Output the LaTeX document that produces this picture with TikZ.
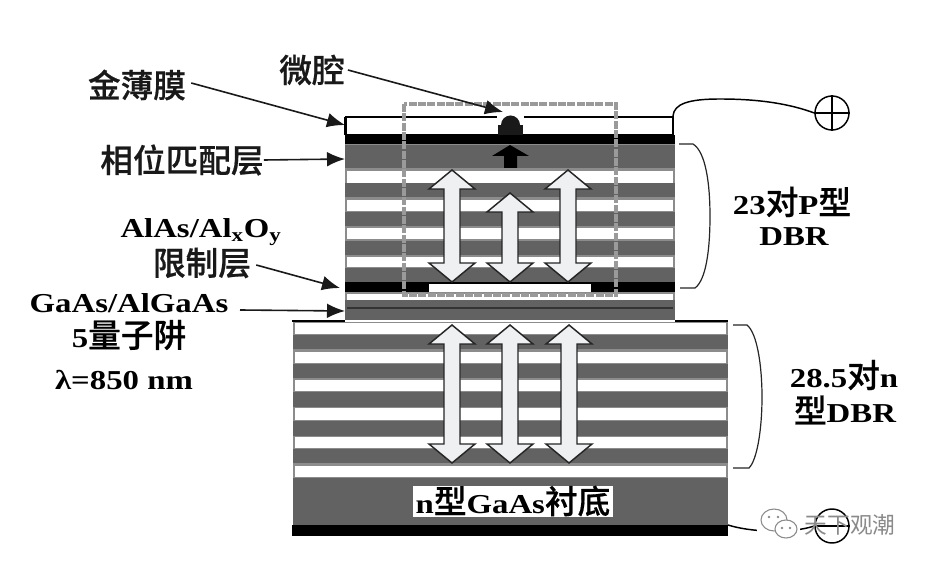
\documentclass[tikz,border=0pt]{standalone}
\usepackage{fontspec}
\setmainfont[FakeStretch=1.2]{Liberation Serif}
\newfontfamily\cjk[FakeBold=0.6]{Noto Sans CJK SC Medium}
\newfontfamily\cjkwm{Noto Sans CJK SC}
\newcommand{\zhf}{\cjk\mdseries\fontsize{24.5}{27}\selectfont}
\newcommand{\latf}{\bfseries\fontsize{20.5}{23}\selectfont}
\usetikzlibrary{arrows.meta}
\definecolor{layer}{HTML}{626262}
\definecolor{edgegray}{HTML}{8C8C8C}
\definecolor{arrowfill}{HTML}{EEF0F2}
\definecolor{dashgray}{HTML}{9A9A9A}
\definecolor{wmgray}{HTML}{8A8A8A}
\tikzset{
  x=0.75pt,y=-0.75pt,
  pointer/.style={draw=black!90,line width=1.2pt,-{Latex[length=13.5pt,width=11pt]}},
  lab/.style={inner sep=0pt,font=\latf},
  zh/.style={inner sep=0pt,font=\zhf,text=black!90},
  dblarrow/.style={draw=black!85,line width=1.1pt,fill=arrowfill,line join=miter},
  bracketline/.style={draw=black!85,line width=0.9pt},
  wire/.style={draw=black,line width=1.1pt}
}
\newcommand{\dblarr}[3]{%
  \draw[dblarrow] (#1,#2) -- (#1+23,#2+19) -- (#1+8,#2+19) -- (#1+8,#3-19) -- (#1+23,#3-19)
    -- (#1,#3) -- (#1-23,#3-19) -- (#1-8,#3-19) -- (#1-8,#2+19) -- (#1-23,#2+19) -- cycle;}
\begin{document}
\begin{tikzpicture}
\useasboundingbox (0,0) rectangle (925,566);
\fill[white] (0,0) rectangle (925,566);

% upper mesa
\fill[edgegray] (345,144) rectangle (675,320);
\foreach \a/\b in {145/168,183/197,212/226,241/255,268/282,300/320}
  \fill[layer] (345,\a) rectangle (675,\b);
\foreach \a/\b in {171/183,200/211,228/239,257/267,294/300}
  \fill[white] (347,\a) rectangle (673,\b);
\draw[black!80,line width=0.8pt] (347,308) -- (673,308);
% gold film
\draw[black,line width=1pt,fill=white] (346,117) rectangle (673,135);
\fill[black] (345,135) rectangle (675,144);
% microcavity
\fill[white] (497,115) rectangle (524,119);
\fill[black!90] (498,125) rectangle (523,135);
\fill[black!90] (510.5,125) circle[radius=9.5];
% small arrow
\fill[black] (510,145) -- (529,156) -- (517,156) -- (517,168) -- (504,168) -- (504,156) -- (492,156) -- cycle;
% oxide layer
\fill[black] (345,282) rectangle (675,292);
\fill[white] (429,284) rectangle (591,292);
% lower mesa
\fill[edgegray] (293,322) rectangle (728,478);
\foreach \a/\b in {335/349,364/378,392/407,421/436,449/463,478/525}
  \fill[layer] (293,\a) rectangle (728,\b);
\foreach \a/\b in {323/334,352/363,380/391,408/420,437/448,466/477}
  \fill[white] (295,\a) rectangle (726,\b);
\fill[black] (292,525) rectangle (728,536);
\draw[black,line width=1pt] (292,321) -- (345,321);
\draw[black,line width=1pt] (675,321) -- (728,321);
\draw[black,line width=1pt] (345,117) -- (345,135);

% dashed cavity frame
\draw[dashgray,line width=2.5pt,dash pattern=on 6pt off 1pt] (404,104) rectangle (616,295);

% light arrows
\dblarr{452}{170}{282}
\dblarr{510}{193}{282}
\dblarr{568}{170}{282}
\dblarr{452}{325}{463}
\dblarr{510}{325}{463}
\dblarr{569}{325}{463}

% labels
\node[zh] (jin) at (137,85) {金薄膜};
\node[zh] (wei) at (312,70) {微腔};
\node[zh] (xiang) at (182,160) {相位匹配层};
\node[lab] (alas) at (201,232) {AlAs/Al\textsubscript{x}O\textsubscript{y}};
\node[zh] (xian) at (202,263) {限制层};
\node[lab] (gaas) at (129,303) {GaAs/AlGaAs};
\node[inner sep=0pt] (qw) at (129,335) {\latf 5{\zhf 量子阱}};
\node[lab] (lam) at (124,380) {λ=850 nm};
\node[inner sep=0pt] (pdbr) at (792,202) {\latf 23{\zhf 对}P{\zhf 型}};
\node[lab] (pdbrb) at (794,237) {DBR};
\node[inner sep=0pt] (ndbr) at (844,375) {\latf 28.5{\zhf 对}n};
\node[inner sep=0pt] (ndbrb) at (845,410) {\latf{\zhf 型}DBR};
\fill[white] (413,486) rectangle (613,517);
\node[inner sep=0pt] (sub) at (513,501) {\latf n{\zhf 型}GaAs{\zhf 衬底}};

% pointers
\coordinate (tjin) at (345,125);
\coordinate (twei) at (503,112);
\coordinate (txiang) at (345,159);
\coordinate (txian) at (340,288);
\coordinate (tgaas) at (345,311);
\coordinate (sgaas) at (240,310);
\draw[pointer] (jin.east) ++(5,-2) -- (tjin);
\draw[pointer] (wei.east) ++(3,0) -- (twei);
\draw[pointer] (xiang.east) -- (txiang);
\draw[pointer] (xian.east) ++(5,2) -- (txian);
\draw[pointer] (sgaas) -- (tgaas);

% brackets
\draw[bracketline] (679,144) -- (693,144) .. controls (706,152) and (710,185) .. (710,216) .. controls (710,250) and (706,280) .. (695,288) -- (680,288);
\draw[bracketline] (733,325) -- (747,325) .. controls (757,333) and (762,365) .. (762,397) .. controls (762,430) and (757,460) .. (749,468) -- (733,468);

% terminals
\node[circle,draw=black,line width=1.1pt,minimum size=25.5pt,inner sep=0pt] (plus) at (832,113) {};
\draw[line width=1.1pt] (plus.west) -- (plus.east) (plus.north) -- (plus.south);
\coordinate (pwire) at (673,116);
\draw[wire] (pwire) .. controls (674,104) and (688,99) .. (720,99) .. controls (760,99) and (790,104) .. (plus.west);
\node[circle,draw=black,line width=1.1pt,minimum size=25.5pt,inner sep=0pt] (minus) at (832,526) {};
\draw[line width=1.6pt] (minus.west) -- (minus.east);
\coordinate (mwire) at (728,525);
\draw[wire] (mwire) .. controls (750,532) and (790,534) .. (minus.west);

% watermark
\fill[white] (757,512) rectangle (800,540);
\draw[wmgray,line width=0.8pt,fill=white] (774,520) ellipse[x radius=13,y radius=11];
\draw[wmgray,line width=0.8pt,fill=white] (786,529) ellipse[x radius=11,y radius=9];
\foreach \p in {(769,517),(778,517),(782,528),(790,528)} \fill[wmgray] \p circle[radius=1.3];
\node[inner sep=0pt,text=wmgray,font=\cjkwm\fontsize{17}{20}\selectfont] (wm) at (850,525) {天下观潮};
\end{tikzpicture}
\end{document}
